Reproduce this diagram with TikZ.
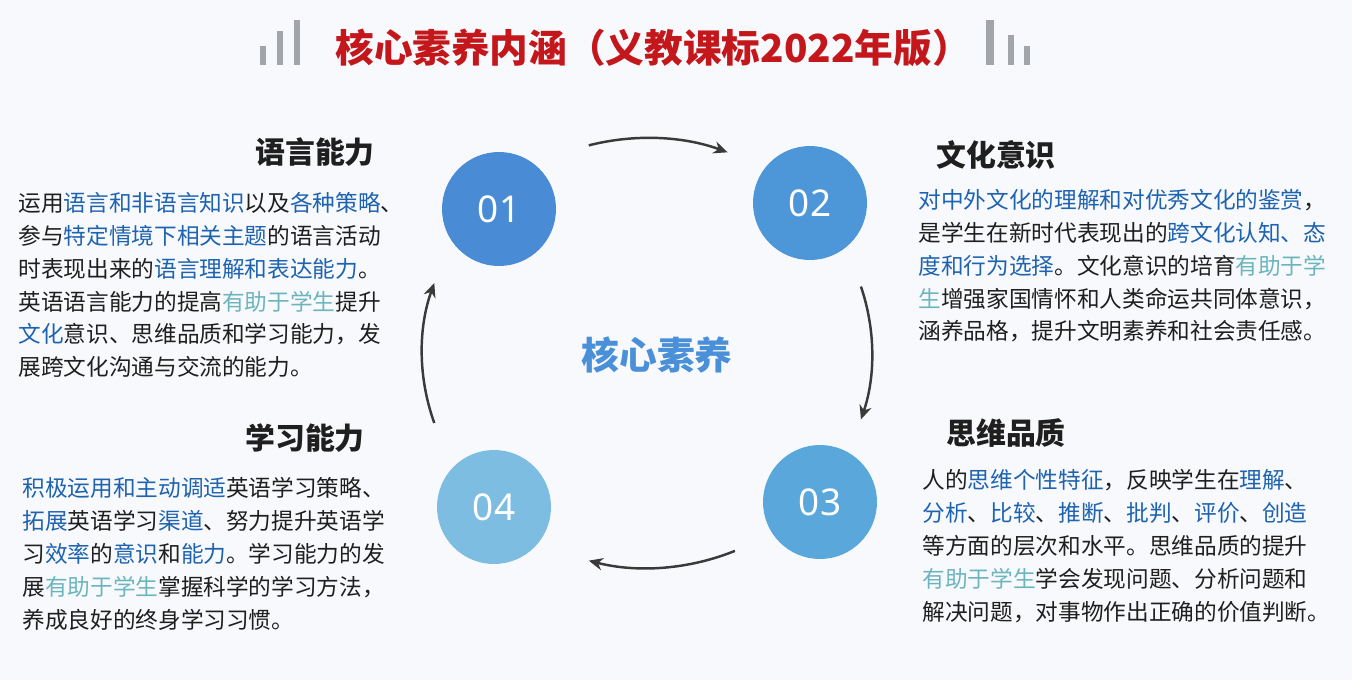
\documentclass[tikz,border=0pt]{standalone}
\usepackage{fontspec}
\setmainfont{Noto Sans CJK SC}
\newfontfamily\numfont{Noto Sans}
\usetikzlibrary{arrows.meta}
\usepackage{xcolor}
\definecolor{pagebg}{HTML}{F8F9FC}
\definecolor{titlered}{HTML}{C3171B}
\definecolor{bargray}{HTML}{A2A6AB}
\definecolor{keyblue}{HTML}{1E63B0}
\definecolor{aidteal}{HTML}{6BB5BD}
\definecolor{coreblue}{HTML}{4A90D9}
\definecolor{arrowgray}{HTML}{3A3A3A}
\definecolor{dotA}{HTML}{4A8BD6}
\definecolor{dotB}{HTML}{4D97D9}
\definecolor{dotC}{HTML}{59A7DB}
\definecolor{dotD}{HTML}{7DBDE1}
\newcommand{\kw}[1]{\textcolor{keyblue}{#1}}
\newcommand{\aid}[1]{\textcolor{aidteal}{#1}}

\begin{document}
\begin{tikzpicture}[x=0.02cm, y=-0.02cm,
        numdot/.style={circle, minimum size=2.28cm, inner sep=0, fill=#1, text=white, font=\numfont\fontsize{21}{21}\selectfont},
        heading/.style={font=\fontsize{17}{17}\selectfont\bfseries, text=black!88},
        para/.style={anchor=north west, inner sep=0, align=left, font=\fontsize{12.9}{18.7}\selectfont, text=black!88},
        cyclearrow/.style={-{Stealth[length=8pt,width=7pt]}, line width=1.4pt, draw=arrowgray}]

    \fill[pagebg] (0,0) rectangle (1352,680);

    % title with bars
    \fill[bargray] (260,46) rectangle (266,65);
    \fill[bargray] (277,31) rectangle (283,65);
    \fill[bargray] (294,20) rectangle (300,65);
    \fill[bargray] (986,20) rectangle (994,65);
    \fill[bargray] (1008,35) rectangle (1014,65);
    \fill[bargray] (1024,46) rectangle (1030,65);
    \node (title) [font=\fontsize{22}{22}\selectfont\bfseries, text=titlered] at (653,48) {核心素养内涵（义教课标2022年版）};

    % circles
    \coordinate (hub) at (647,353);
    \node (core) [font=\fontsize{21.5}{21.5}\selectfont\bfseries, text=coreblue] at (657,355) {核心素养};
    \node (n1) [numdot=dotA] at (499,209) {01};
    \node (n2) [numdot=dotB] at (810,203) {02};
    \node (n3) [numdot=dotC] at (820,502) {03};
    \node (n4) [numdot=dotD] at (494,507) {04};

    \draw [cyclearrow] ([shift={(105:4.5cm and 4.3cm)}]hub) arc[start angle=105, end angle=69, x radius=4.5cm, y radius=4.3cm];
    \draw [cyclearrow] ([shift={(18:4.5cm and 4.3cm)}]hub) arc[start angle=18, end angle=-18, x radius=4.5cm, y radius=4.3cm];
    \draw [cyclearrow] ([shift={(-67:4.5cm and 4.3cm)}]hub) arc[start angle=-67, end angle=-105, x radius=4.5cm, y radius=4.3cm];
    \draw [cyclearrow] ([shift={(199:4.5cm and 4.3cm)}]hub) arc[start angle=199, end angle=161, x radius=4.5cm, y radius=4.3cm];

    % headings
    \node (h1) [heading] at (315,152) {语言能力};
    \node (h2) [heading] at (996,155) {文化意识};
    \node (h3) [heading] at (305,438) {学习能力};
    \node (h4) [heading] at (1006,433) {思维品质};

    % texts
    \node (p1) [para] at (18,192) {运用\kw{语言和非语言知识}以及\kw{各种策略}、\\
        参与\kw{特定情境下相关主题}的语言活动\\
        时表现出来的\kw{语言理解和表达能力}。\\
        英语语言能力的提高\aid{有助于学生}提升\\
        \kw{文化}意识、思维品质和学习能力，发\\
        展跨文化沟通与交流的能力。};
    \node (p2) [para] at (918,189) {\kw{对中外文化的理解和对优秀文化的鉴赏}，\\
        是学生在新时代表现出的\kw{跨文化认知、态}\\
        \kw{度和行为选择}。文化意识的培育\aid{有助于学}\\
        \aid{生}增强家国情怀和人类命运共同体意识，\\
        涵养品格，提升文明素养和社会责任感。};
    \node (p3) [para] at (22,477) {\kw{积极运用和主动调适}英语学习策略、\\
        \kw{拓展}英语学习\kw{渠道}、努力提升英语学\\
        习\kw{效率}的\kw{意识}和\kw{能力}。学习能力的发\\
        展\aid{有助于学生}掌握科学的学习方法，\\
        养成良好的终身学习习惯。};
    \node (p4) [para] at (922,469) {人的\kw{思维个性特征}，反映学生在\kw{理解}、\\
        \kw{分析}、\kw{比较}、\kw{推断}、\kw{批判}、\kw{评价}、\kw{创造}\\
        等方面的层次和水平。思维品质的提升\\
        \aid{有助于学生}学会发现问题、分析问题和\\
        解决问题，对事物作出正确的价值判断。};
\end{tikzpicture}
\end{document}
